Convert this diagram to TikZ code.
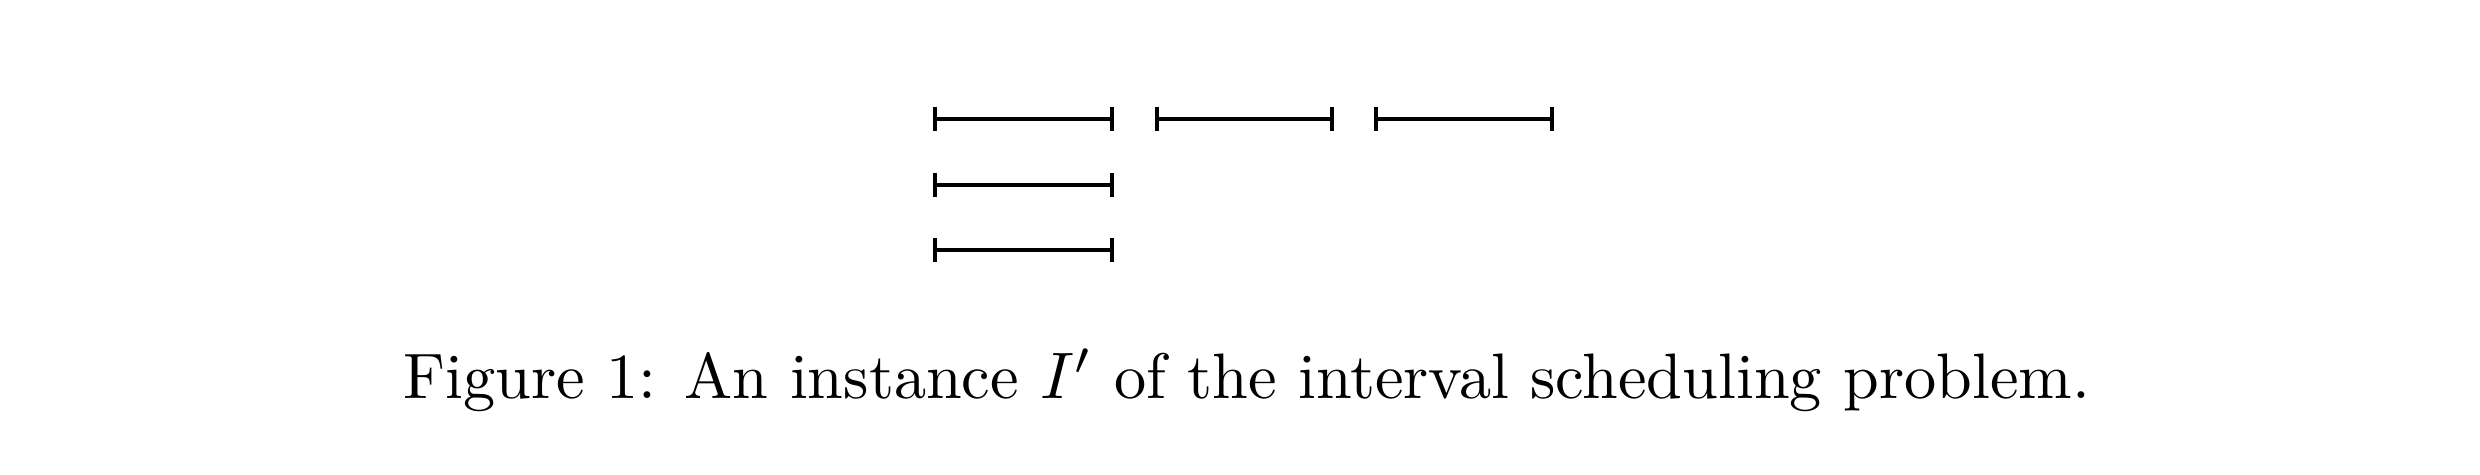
\documentclass[tikz,border=0pt]{standalone}
\usetikzlibrary{arrows.meta}
\begin{document}
\begin{tikzpicture}[x=0.152pt,y=-0.152pt,
  interval/.style={line width=0.6pt,{Bar[width=3.6pt,line width=0.5pt]}-{Bar[width=3.6pt,line width=0.5pt]}, shorten <=-0.25pt, shorten >=-0.25pt},
  captiontext/.style={anchor=base west,inner sep=0pt,font=\fontsize{9.77}{12}\selectfont}]
\useasboundingbox (0,0) rectangle (2480,474);
\coordinate (a1) at (935,119); \coordinate (b1) at (1112,119);
\coordinate (a2) at (1157,119); \coordinate (b2) at (1332,119);
\coordinate (a3) at (1376,119); \coordinate (b3) at (1552,119);
\coordinate (a4) at (935,185); \coordinate (b4) at (1112,185);
\coordinate (a5) at (935,250); \coordinate (b5) at (1112,250);
\draw[interval] (a1) -- (b1);
\draw[interval] (a2) -- (b2);
\draw[interval] (a3) -- (b3);
\draw[interval] (a4) -- (b4);
\draw[interval] (a5) -- (b5);
\node[captiontext] (cap) at (402,398) {Figure 1: An instance $I'$ of the interval scheduling problem.};
\end{tikzpicture}
\end{document}
